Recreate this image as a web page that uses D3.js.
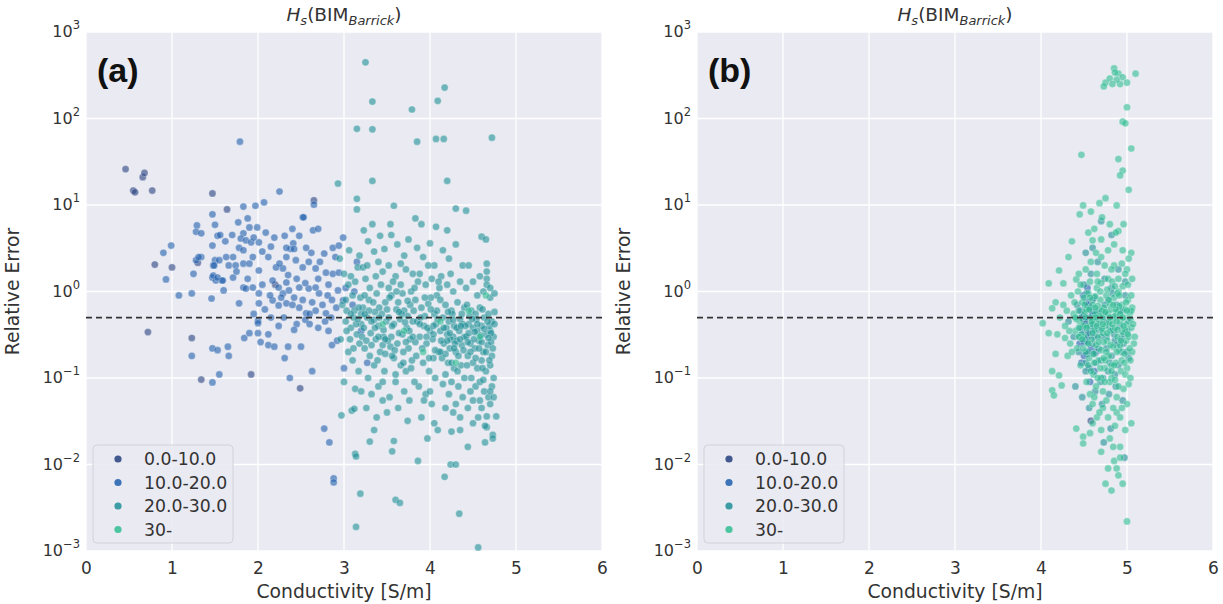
<!DOCTYPE html>
<html>
<head>
<meta charset="utf-8">
<script src="https://cdn.jsdelivr.net/npm/d3@7"></script>
<style>
  body { margin: 0; background: #fff; }
  svg text { font-family: "DejaVu Sans", sans-serif; fill: #262626; }
</style>
</head>
<body>
<svg id="chart" width="1223" height="604"></svg>
<script>
// legend categories and colours
var categories = ["0.0-10.0", "10.0-20.0", "20.0-30.0", "30-"];
var catColors = ["#24407f", "#1f5fae", "#1e8f96", "#2fbd92"];
var xTicks = [0, 1, 2, 3, 4, 5, 6];
var yTicks = [-3, -2, -1, 0, 1, 2, 3];
var threshold = 0.5;

// panel (a): [conductivity, relative error]
var a0 = [[0.46,26],[0.55,14.7],[0.57,14],[0.66,21],[0.68,23.5],[0.77,14.7],[0.72,0.34],[0.8,2.05],[1.47,13.6],[1.64,8.9],
  [1.34,0.096],[1.92,0.11],[2.49,0.076],[1.23,0.29],[1.0,1.9],[1.3,2.15],[2.2,1.2],[2.65,11.3]];
var a1 = [[0.9,2.8],[0.99,3.4],[0.93,1.38],[1.08,0.9],[1.23,0.95],[1.46,0.83],[1.78,0.73],[1.29,5.8],[1.28,4.9],[1.34,4.7],
  [1.47,7.8],[1.5,5.9],[1.53,4.4],[1.56,4.5],[1.47,3.4],[1.34,2.5],[1.25,1.6],[1.5,2.3],[1.48,2.0],[1.47,1.45],
  [1.51,1.34],[1.58,1.34],[1.6,1.03],[1.79,54],[2.25,14.3],[2.65,10.1],[2.52,7.2],[1.83,9.6],[1.97,9.8],[2.07,10.7],
  [1.23,0.18],[1.47,0.22],[1.53,0.21],[1.65,0.23],[1.66,0.18],[1.47,0.089],[1.55,0.11],[1.84,0.29],[1.9,0.33],[2.0,0.33],
  [2.12,0.32],[2.03,0.26],[2.12,0.24],[2.19,0.23],[2.35,0.23],[2.5,0.23],[2.31,0.17],[2.37,0.1],[2.63,0.12],[2.77,0.026],
  [2.83,0.018],[2.88,0.0069],[2.86,0.24],[2.92,0.27],[2.0,0.46],[2.0,0.43],[2.88,0.0062],
  [1.77,6.3],[1.88,7.0],[1.9,5.5],[1.99,5.5],[1.83,4.7],[1.8,4.1],[1.86,3.9],[1.78,3.2],[1.83,3.0],[1.92,3.7],[2.01,3.7],
  [2.09,4.8],[2.19,4.2],[2.31,4.4],[2.4,5.3],[2.48,4.4],[2.53,7.2],[2.41,3.6],[2.38,3.1],[2.42,3.1],[2.56,3.2],[2.33,3.2],
  [2.64,5.1],[2.7,5.3],[2.77,2.75],[2.87,3.2],[2.94,3.4],[2.99,4.2],
  [1.71,2.5],[1.63,2.5],[1.66,2.0],[1.74,2.0],[1.83,2.1],[1.9,2.1],[1.94,2.5],
  [2.01,1.75],[2.12,2.5],[2.21,1.9],[2.33,2.5],[2.29,1.85],[2.44,2.3],[2.52,1.9],[2.59,2.2],[2.67,1.85],[2.79,1.65],[2.87,1.6],[2.94,1.65],
  [1.48,1.53],[1.53,1.45],[1.59,1.34],[1.71,1.45],[1.83,1.11],[1.86,1.08],[1.94,1.11],[2.01,0.95],
  [2.17,1.34],[2.24,1.11],[2.33,1.27],[2.29,0.95],[2.36,1.03],[2.42,0.85],[2.48,1.11],[2.59,1.08],[2.67,1.11],[2.71,0.95],[2.81,0.9],[2.93,1.03],[2.99,0.79],
  [2.01,0.73],[2.17,0.79],[2.24,0.69],[2.33,0.73],[2.48,0.65],[2.56,0.56],[2.67,0.6],[2.79,0.56],[2.91,0.65],
  [1.28,2.3],[1.31,2.5],[1.49,2.0],[1.55,2.3],
  [2.3,0.5],[2.45,0.42],[2.55,0.47],[2.7,0.38],[2.78,0.45],[2.6,0.55],[2.15,0.5],[2.85,0.5],
  [3.02,1.1],[3.1,0.7],[3.2,0.35],[3.27,0.15],[3.15,2.2],[3.0,0.13],[3.12,1.0],
  [1.62,3.8],[1.7,4.5],[1.95,4.2],[2.05,2.9],[2.15,3.3],[2.25,2.1],[2.35,1.55],[2.45,1.4],[2.55,1.25],[2.62,2.8],
  [2.72,2.2],[2.82,1.2],[2.9,2.5],[1.75,1.7],[1.88,1.4],[2.05,1.2],[2.14,0.9],[2.27,0.85],[2.4,0.7],[2.52,0.8],
  [2.63,0.75],[2.75,0.7],[2.86,0.8],[2.7,1.4],[2.6,0.42],[2.42,0.36],[2.24,0.4],[1.95,0.55],[2.08,0.62],[2.82,0.35]];
var a2 = [[2.93,17.7],[3.15,11.8],[3.15,8.9],[3.23,5.1],[2.95,2.4],[3.0,1.6],[3.05,1.2],[3.1,0.9],[2.98,0.7],[3.12,0.6],
  [3.02,0.45],[3.08,0.38],[3.15,0.32],[2.96,0.28],[3.18,0.25],[3.05,0.2],[3.1,0.16],[3.17,0.12],[3.0,0.09],[3.13,0.075],
  [2.97,0.037],[3.09,0.042],[3.12,0.044],[3.13,0.0133],[3.14,0.0124],[3.19,0.0046],[3.14,0.0019],[3.2,0.55],[3.16,1.9],[3.06,3.0],
  [3.19,0.85],[3.11,0.5],[3.2,0.42],[3.03,0.6],[3.18,2.6],[3.08,1.5],
  [3.33,75],[3.33,157],[3.25,446],[3.15,76],[3.33,19],[3.58,9.8],[3.3,0.0184],[3.28,3.8],[3.35,2.9],[3.42,4.4],
  [3.25,1.4],[3.3,1.1],[3.38,0.95],[3.45,1.7],[3.48,0.75],[3.22,0.65],[3.27,0.5],[3.35,0.47],[3.4,0.4],[3.44,0.55],
  [3.31,0.33],[3.37,0.28],[3.46,0.3],[3.24,0.22],[3.3,0.18],[3.42,0.2],[3.35,0.14],[3.47,0.12],[3.28,0.1],[3.4,0.08],
  [3.32,0.065],[3.45,0.055],[3.26,0.045],[3.38,0.035],[3.22,1.9],[3.4,2.2],[3.47,3.1],[3.33,6.0],[3.29,0.8],[3.41,0.65],
  [3.49,0.45],[3.36,0.58],[3.23,0.38],[3.45,0.24],
  [3.54,6.0],[3.79,127],[3.85,54],[3.83,7.0],[3.56,0.0142],[3.58,0.0187],[3.6,0.0039],[3.65,0.0036],[3.55,4.5],[3.62,3.5],
  [3.7,2.6],[3.75,4.0],[3.52,2.0],[3.6,1.5],[3.66,1.2],[3.72,1.8],[3.78,1.0],[3.55,0.9],[3.63,0.75],[3.7,0.6],
  [3.77,0.7],[3.52,0.5],[3.58,0.42],[3.65,0.48],[3.73,0.38],[3.8,0.45],[3.55,0.3],[3.62,0.25],[3.68,0.32],[3.75,0.22],
  [3.58,0.17],[3.66,0.14],[3.72,0.12],[3.79,0.16],[3.6,0.09],[3.7,0.07],[3.76,0.055],[3.63,0.045],[3.53,0.06],[3.68,0.95],
  [3.57,1.3],[3.74,0.52],[3.61,0.62],[3.69,0.2],[3.54,0.23],[3.77,0.28],
  [4.09,160],[4.07,58],[3.9,6.0],[4.07,5.6],[3.86,0.011],[3.97,0.02],[4.09,0.025],[3.85,3.2],[3.92,2.5],[4.0,3.6],
  [4.05,2.0],[3.88,1.6],[3.95,1.2],[4.02,1.4],[4.08,0.9],[3.83,0.8],[3.9,0.65],[3.98,0.72],[4.05,0.55],[3.85,0.45],
  [3.93,0.4],[4.0,0.35],[4.07,0.42],[3.88,0.3],[3.96,0.25],[4.03,0.28],[4.1,0.2],[3.84,0.18],[3.92,0.15],[3.99,0.12],
  [4.06,0.1],[3.87,0.08],[3.95,0.065],[4.02,0.05],[3.9,0.035],[4.08,0.6],[3.82,1.1],[4.01,0.85],[3.94,0.52],[4.04,0.17],
  [4.16,58],[4.2,19],[4.3,9.1],[4.42,8.6],[4.2,5.1],[4.17,228],[4.17,0.0072],[4.24,0.01],[4.3,0.01],[4.34,0.0027],
  [4.25,0.024],[4.15,3.0],[4.22,2.4],[4.3,3.5],[4.38,2.0],[4.13,1.5],[4.2,1.2],[4.27,1.0],[4.35,1.3],[4.12,0.8],
  [4.18,0.7],[4.25,0.6],[4.32,0.75],[4.4,0.65],[4.15,0.5],[4.22,0.45],[4.28,0.4],[4.35,0.48],[4.12,0.35],[4.2,0.32],
  [4.27,0.3],[4.34,0.35],[4.4,0.3],[4.16,0.25],[4.23,0.22],[4.3,0.2],[4.37,0.24],[4.14,0.17],[4.21,0.15],[4.28,0.13],
  [4.36,0.14],[4.18,0.11],[4.25,0.09],[4.33,0.08],[4.4,0.1],[4.22,0.065],[4.3,0.05],[4.38,0.06],[4.27,0.04],[4.35,0.035],
  [4.24,0.28],[4.31,0.27],[4.38,0.42],[4.19,0.38],[4.26,0.55],
  [4.72,60],[4.44,0.016],[4.56,0.0011],[4.73,0.022],[4.73,0.02],[4.66,0.036],[4.66,0.027],[4.77,0.036],[4.6,4.3],[4.65,4.0],
  [4.66,2.1],[4.66,1.7],[4.66,1.4],[4.66,1.2],[4.45,2.0],[4.5,1.3],[4.55,0.9],[4.62,1.0],[4.7,0.85],[4.75,0.95],
  [4.43,0.7],[4.48,0.6],[4.53,0.55],[4.58,0.65],[4.63,0.5],[4.68,0.55],[4.72,0.45],[4.45,0.42],[4.5,0.38],[4.55,0.35],
  [4.6,0.4],[4.65,0.32],[4.7,0.35],[4.74,0.3],[4.42,0.3],[4.47,0.25],[4.52,0.22],[4.57,0.27],[4.62,0.2],[4.67,0.24],
  [4.72,0.18],[4.44,0.18],[4.5,0.15],[4.55,0.13],[4.6,0.16],[4.65,0.12],[4.7,0.14],[4.74,0.1],[4.48,0.1],[4.53,0.08],
  [4.58,0.09],[4.63,0.07],[4.68,0.06],[4.72,0.08],[4.5,0.055],[4.6,0.045],[4.7,0.05],[4.56,0.035],[4.64,0.028],[4.69,0.4],
  [4.61,0.62],[4.54,0.48],[4.46,0.52],[4.75,0.58],[4.71,0.26],
  [3.03,0.35],[3.07,0.28],[3.11,0.22],[3.14,0.42],[3.17,0.65],[3.21,0.3],[3.24,0.9],[3.26,0.27],[3.29,0.6],[3.32,0.24],
  [3.34,0.75],[3.36,0.38],[3.39,0.16],[3.41,0.5],[3.43,1.2],[3.46,0.36],[3.48,0.19],[3.5,0.62],[3.51,0.27],[3.53,0.85],
  [3.56,0.4],[3.59,0.21],[3.61,1.0],[3.64,0.33],[3.67,0.55],[3.69,0.15],[3.71,0.44],[3.74,0.78],[3.76,0.35],[3.78,0.13],
  [3.81,0.6],[3.83,0.26],[3.86,1.3],[3.89,0.5],[3.91,0.22],[3.94,0.85],[3.97,0.38],[3.99,0.17],[4.01,0.62],[4.04,0.32],
  [4.06,0.21],[4.09,0.48],[4.11,1.1],[4.13,0.27],[4.16,0.38],[4.18,0.19],[4.21,0.58],[4.23,0.33],[4.25,0.15],[4.27,0.47],
  [4.29,0.25],[4.31,0.38],[4.33,0.18],[4.35,0.28],[4.37,0.55],[4.39,0.21],[4.41,0.4],[4.43,0.14],[4.45,0.33],[4.47,0.2],
  [4.49,0.48],[4.51,0.28],[4.53,0.17],[4.55,0.42],[4.57,0.22],[4.59,0.31],[4.61,0.13],[4.63,0.37],[4.65,0.2],[4.67,0.45],
  [4.69,0.16],[4.71,0.33],[4.73,0.22],[4.75,0.42],[4.68,0.29],[4.6,0.26],[4.52,0.34],[4.44,0.26],[4.36,0.4],[4.28,0.22],
  [4.2,0.27],[4.12,0.2],[4.04,0.4],[3.96,0.3],[3.88,0.42],[3.8,0.3],[3.72,0.26],[3.64,0.58],[3.56,0.18],[3.48,0.28],
  [3.4,0.3],[3.32,0.45],[3.24,0.55],[3.16,0.48],[3.08,0.55],[3.02,0.8],[3.13,1.3],[3.27,2.0],[3.37,1.5],[3.52,1.1],
  [3.66,2.1],[3.8,1.6],[3.98,2.0],[4.1,1.3],[4.24,1.6],[4.42,1.1],[4.58,1.5],[4.7,1.1],[3.45,0.09],[3.6,0.11],
  [3.82,0.09],[4.0,0.07],[4.15,0.085],[4.32,0.12],[4.47,0.07],[4.62,0.095],[4.74,0.06],[3.2,0.07],[3.35,0.025],[3.5,0.04],
  [3.74,0.032],[3.93,0.055],[4.18,0.045],[4.44,0.045],[4.58,0.055],[4.7,0.07],[4.64,0.018],[4.5,0.03],[4.35,0.025],[4.05,0.03]];
var a3 = [[3.92,0.2],[4.45,0.6],[4.58,0.3],[3.7,0.35],[4.12,0.45],[4.3,0.15],[3.45,0.42],[4.65,0.9]];

// panel (b)
var b0 = [[4.58,0.032],[4.52,0.42]];
var b1 = [[4.48,0.35],[4.52,0.28],[4.55,0.5],[4.5,0.18],[4.58,0.22],[4.46,0.6],[4.53,0.75],[4.6,0.4],[4.56,0.13],[4.49,0.9],
  [4.62,0.3],[4.54,1.1],[4.47,0.15],[4.59,0.6],[4.51,0.45],[4.57,0.09],[4.64,0.2],[4.45,0.25],
  [4.5,0.26],[4.53,0.19],[4.57,0.35],[4.6,0.55],[4.54,0.3],[4.48,0.5],[4.62,0.12],[4.55,0.7]];
var b2 = [[4.32,0.45],[4.38,0.3],[4.42,0.7],[4.44,0.2],[4.47,0.5],[4.5,1.2],[4.52,0.12],[4.55,0.33],[4.57,0.65],[4.6,0.25],
  [4.62,0.85],[4.64,0.15],[4.66,0.42],[4.68,0.6],[4.7,0.3],[4.72,0.1],[4.74,0.55],[4.76,0.22],[4.78,0.8],[4.8,0.38],
  [4.82,0.18],[4.84,0.5],[4.86,0.27],[4.88,0.7],[4.9,0.14],[4.92,0.4],[4.94,0.6],[4.96,0.25],[4.98,0.9],[5.0,0.35],
  [5.02,0.17],[4.4,0.08],[4.48,0.06],[4.56,0.045],[4.63,0.07],[4.71,0.05],[4.79,0.065],[4.87,0.08],[4.95,0.055],[4.58,1.6],
  [4.66,2.2],[4.74,1.4],[4.82,1.1],[4.9,1.8],[4.98,1.3],[4.53,0.95],[4.61,0.48],[4.69,0.36],[4.77,0.44],[4.85,0.32],
  [4.93,0.28],[5.01,0.46],[4.46,0.38],[4.54,0.26],[4.62,0.19],[4.7,0.16],[4.78,0.12],[4.86,0.11],[4.94,0.2],[4.81,0.026],
  [4.73,0.018],[4.97,0.012],[4.6,3.2],[4.7,6.5],[4.82,4.5],[4.52,2.8],
  [4.45,0.3],[4.5,0.55],[4.55,0.2],[4.6,0.8],[4.63,0.35],[4.67,0.22],[4.72,0.48],[4.76,0.3],[4.8,0.15],[4.84,0.36],
  [4.88,0.24],[4.92,0.6],[4.96,0.32],[5.0,0.2],[4.58,0.4],[4.65,0.58],[4.74,0.7],[4.83,0.95],[4.52,0.15],[4.69,0.09]];
var b3 = [[4.85,380],[4.9,330],[4.75,260],[4.8,290],[4.92,250],[4.95,300],[5.0,260],[5.1,330],[4.73,235],[4.86,340],
  [4.88,280],[4.83,250],[5.0,135],[4.95,92],[4.98,88],[5.05,45],[4.47,38],[4.9,34],[4.95,25],
  [4.88,9.9],[4.49,9.9],[4.45,7.8],[4.58,8.4],[4.71,7.2],[4.62,5.3],[4.6,3.9],[4.36,3.8],[4.32,2.5],[4.21,1.75],
  [4.09,1.24],[4.26,1.24],[4.41,1.38],[4.17,0.75],[4.13,0.64],[4.02,0.43],[4.09,0.33],[4.19,0.32],[4.28,0.29],[4.17,0.19],
  [4.31,0.18],[4.13,0.12],[4.21,0.107],[4.13,0.072],[4.15,0.063],[4.24,0.082],[4.41,0.026],[4.49,0.021],[4.57,0.023],[4.49,0.0175],
  [4.75,12],[4.8,6],[4.9,5],[4.95,3],[4.7,2.5],[4.85,2],[5.0,1.8],[4.65,1.6],[4.78,1.4],[5.02,15],
  [4.92,22],[4.85,3.5],[4.55,4.8],[4.68,10.5],[5.05,2.8],
  [5.0,0.0022],[4.75,0.006],[4.82,0.005],[4.88,0.009],[4.9,0.0075],[4.85,0.011],[4.95,0.006],[4.7,0.014],[4.92,0.016],[4.8,0.02],
  [4.6,0.03],[4.98,0.025],[5.05,0.03],[4.65,0.035],[4.88,0.04],[4.72,0.045],
  [4.35,0.9],[4.38,0.55],[4.4,0.35],[4.42,0.22],[4.43,1.0],[4.45,0.45],[4.46,0.14],[4.48,0.75],[4.5,0.3],[4.51,0.58],
  [4.52,0.2],[4.54,0.4],[4.55,0.95],[4.56,0.17],[4.58,0.5],[4.59,0.28],[4.6,0.7],[4.61,0.11],[4.62,0.36],[4.63,0.55],
  [4.64,0.24],[4.65,1.1],[4.66,0.3],[4.67,0.16],[4.68,0.45],[4.69,0.8],[4.7,0.21],[4.71,0.5],[4.72,0.33],[4.73,0.65],
  [4.74,0.13],[4.75,0.4],[4.76,0.9],[4.77,0.27],[4.78,0.55],[4.79,0.18],[4.8,0.72],[4.81,0.35],[4.82,0.1],[4.83,0.48],
  [4.84,0.23],[4.85,0.85],[4.86,0.38],[4.87,0.15],[4.88,0.58],[4.89,0.3],[4.9,1.0],[4.91,0.21],[4.92,0.45],[4.93,0.12],
  [4.94,0.7],[4.95,0.34],[4.96,0.5],[4.97,0.19],[4.98,0.62],[4.99,0.27],[5.0,0.42],[5.01,0.8],[5.02,0.3],[5.03,0.55],
  [5.04,0.16],[5.05,0.38],[5.06,0.65],[5.08,0.25],
  [4.57,0.065],[4.64,0.08],[4.72,0.07],[4.8,0.09],[4.88,0.06],[4.96,0.075],[5.02,0.085],[4.6,0.05],[4.68,0.04],[4.76,0.055],
  [4.84,0.045],[4.92,0.035],[5.0,0.05],[4.53,0.09],[4.7,0.1],[4.86,0.095],
  [4.47,0.32],[4.53,0.62],[4.6,0.42],[4.66,0.68],[4.73,0.26],[4.79,0.44],[4.86,0.52],[4.92,0.24],[4.98,0.36],[5.04,0.48],
  [4.5,0.85],[4.57,1.3],[4.63,0.88],[4.7,1.25],[4.77,1.05],[4.83,1.3],[4.89,0.95],[4.95,1.15],[5.01,1.2],[4.55,0.14],
  [4.62,0.15],[4.69,0.13],[4.75,0.16],[4.82,0.14],[4.88,0.2],[4.94,0.16],[5.0,0.13],[5.06,0.2],[4.44,0.6],[4.49,0.4],
  [4.71,0.6],[4.81,0.62],[4.91,0.68],[5.05,0.9],
  [4.3,0.6],[4.33,0.35],[4.36,0.2],[4.39,0.75],[4.41,0.48],[4.44,0.3],[4.46,1.2],[4.49,0.22],[4.51,0.7],[4.53,0.38],
  [4.55,0.25],[4.57,0.85],[4.59,0.45],[4.61,0.19],[4.63,0.65],[4.65,0.4],[4.67,0.26],[4.69,1.0],[4.71,0.37],[4.73,0.17],
  [4.75,0.58],[4.77,0.33],[4.79,0.8],[4.81,0.24],[4.83,0.42],[4.85,0.14],[4.87,0.62],[4.89,0.36],[4.91,0.9],[4.93,0.27],
  [4.95,0.5],[4.97,0.15],[4.99,0.75],[5.01,0.32],[5.03,0.22],[5.05,0.6],[5.07,0.42],[5.09,0.3],[4.58,0.12],[4.66,0.1],
  [4.74,0.09],[4.82,0.12],[4.9,0.08],[4.98,0.11],[5.04,0.1],[4.62,0.06],[4.78,0.035],[4.94,0.045],[4.86,0.028],[4.7,0.025],
  [4.76,0.2],[4.84,0.7],[4.92,0.55],[5.0,0.6],[4.68,0.52],[4.6,0.33],[4.52,0.5],[4.44,0.38],[4.88,0.45],[4.96,0.4],
  [4.8,0.5],[4.72,0.42],[4.64,0.5],[4.56,0.62],[4.48,0.28],[4.4,0.5],[4.34,0.25],[4.28,0.4],[4.22,0.5],[4.26,0.7],
  [4.98,1.6],[4.9,1.4],[4.82,1.8],[4.74,2.0],[4.66,1.3],[4.58,2.2],[5.02,2.4],[4.94,2.1],[4.86,1.15],[4.78,3.0],
  [4.7,4.0],[4.87,4.8],[4.96,6],[4.64,2.8],[4.52,1.8],[4.44,1.6],[5.06,1.4],[4.92,0.012],[4.84,0.016],[4.78,0.009]];

var svg = d3.select("#chart");
var plotTop = 32, plotBottom = 551;

function drawPanel(left, right, label, groups) {
  var x = d3.scaleLinear().domain([0, 6]).range([left, right]);
  var y = d3.scaleLog().domain([1e-3, 1e3]).range([plotBottom, plotTop]);
  var g = svg.append("g");

  g.append("rect").attr("x", left).attr("y", plotTop)
    .attr("width", right - left).attr("height", plotBottom - plotTop).attr("fill", "#eaeaf2");

  // grid
  g.selectAll(".gx").data(xTicks).enter().append("line")
    .attr("x1", d => x(d)).attr("x2", d => x(d)).attr("y1", plotTop).attr("y2", plotBottom)
    .attr("stroke", "#fff").attr("stroke-width", 1.3);
  g.selectAll(".gy").data(yTicks).enter().append("line")
    .attr("x1", left).attr("x2", right).attr("y1", d => y(Math.pow(10, d))).attr("y2", d => y(Math.pow(10, d)))
    .attr("stroke", "#fff").attr("stroke-width", 1.3);

  // x axis
  var xa = g.append("g").attr("transform", "translate(0," + plotBottom + ")")
    .call(d3.axisBottom(x).tickValues(xTicks).tickSize(0).tickPadding(11).tickFormat(d3.format("d")));
  xa.select(".domain").remove();
  xa.selectAll("text").attr("font-size", 17).style("fill", "#333");

  // y axis labels as 10^n
  var yl = g.selectAll(".yl").data(yTicks).enter().append("text")
    .attr("x", left - 6).attr("y", d => y(Math.pow(10, d)) + 5)
    .attr("text-anchor", "end").attr("font-size", 16).style("fill", "#333");
  yl.append("tspan").text("10");
  yl.append("tspan").attr("dy", -8).attr("font-size", 11.5).text(d => d < 0 ? "\u2212" + (-d) : d);

  g.append("text").attr("x", (left + right) / 2).attr("y", 598).attr("text-anchor", "middle")
    .attr("font-size", 18.8).style("fill", "#333").text("Conductivity [S/m]");
  g.append("text").attr("transform", "translate(" + (left - 67) + "," + ((plotTop + plotBottom) / 2) + ") rotate(-90)")
    .attr("text-anchor", "middle").attr("font-size", 18.8).style("fill", "#333").text("Relative Error");

  // title H_s(BIM_Barrick)
  var t = g.append("text").attr("x", (left + right) / 2).attr("y", 21).attr("text-anchor", "middle")
    .attr("font-size", 18.5).style("fill", "#333");
  t.append("tspan").attr("font-style", "italic").text("H");
  t.append("tspan").attr("font-style", "italic").attr("font-size", 13).attr("dy", 4).text("s");
  t.append("tspan").attr("dy", -4).text("(BIM");
  t.append("tspan").attr("font-style", "italic").attr("font-size", 13).attr("dy", 4).text("Barrick");
  t.append("tspan").attr("dy", -4).text(")");

  // points
  var pts = g.append("g");
  groups.forEach(function (data, i) {
    pts.selectAll(null).data(data).enter().append("circle")
      .attr("cx", d => x(d[0])).attr("cy", d => y(d[1])).attr("r", 3.6)
      .attr("fill", catColors[i]).attr("fill-opacity", 0.6)
      .attr("stroke", "#fff").attr("stroke-opacity", 0.5).attr("stroke-width", 0.6);
  });

  // threshold line
  g.append("line").attr("x1", left).attr("x2", right)
    .attr("y1", y(threshold)).attr("y2", y(threshold))
    .attr("stroke", "#333").attr("stroke-width", 1.8).attr("stroke-dasharray", "6,4");

  // panel letter
  g.append("text").attr("x", left + 11).attr("y", 82)
    .style("font-family", "'Liberation Sans', Arial, sans-serif")
    .attr("font-weight", "bold").attr("font-size", 34).style("fill", "#111").text(label);

  // legend
  var lg = g.append("g").attr("transform", "translate(" + (left + 7) + ",445)");
  lg.append("rect").attr("width", 140).attr("height", 98).attr("rx", 4)
    .attr("fill", "#eaeaf2").attr("fill-opacity", 0.85).attr("stroke", "#d2d2da");
  categories.forEach(function (c, i) {
    lg.append("circle").attr("cx", 25).attr("cy", 14 + i * 23.5).attr("r", 3.6)
      .attr("fill", catColors[i]).attr("fill-opacity", 0.85);
    lg.append("text").attr("x", 51).attr("y", 20 + i * 23.5).attr("font-size", 17.3)
      .style("fill", "#333").text(c);
  });
}

drawPanel(86, 602, "(a)", [a0, a1, a2, a3]);
drawPanel(697, 1213, "(b)", [b0, b1, b2, b3]);
</script>
</body>
</html>
